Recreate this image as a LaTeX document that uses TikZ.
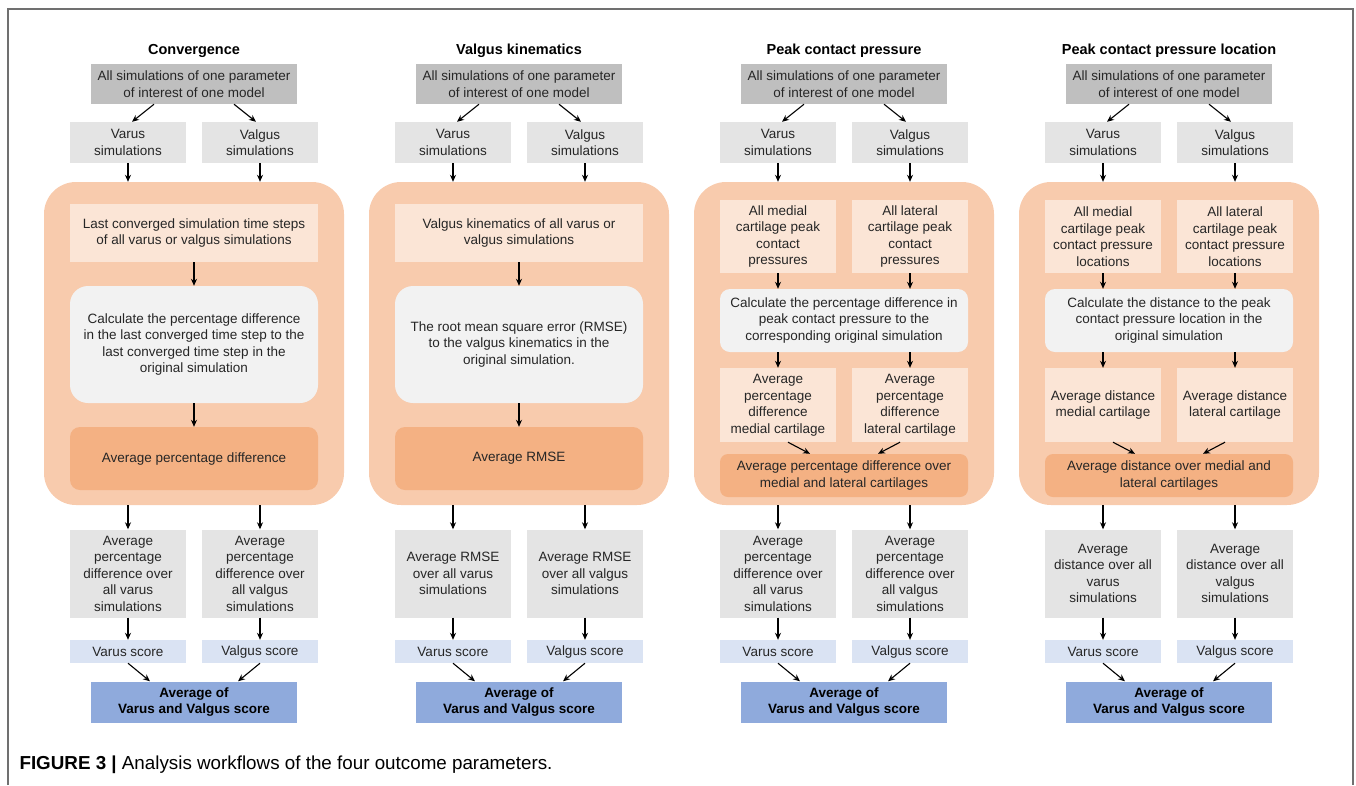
\documentclass[tikz,border=0pt]{standalone}
\usepackage{fontspec}
\setmainfont{Liberation Sans}
\usetikzlibrary{arrows.meta}

\definecolor{ink}{HTML}{262626}
\definecolor{topgray}{HTML}{BFBFBF}
\definecolor{simgray}{HTML}{E4E4E4}
\definecolor{peach}{HTML}{F8CBAD}
\definecolor{peachlight}{HTML}{FBE5D6}
\definecolor{peachdark}{HTML}{F4B183}
\definecolor{calcgray}{HTML}{F2F2F2}
\definecolor{bluelight}{HTML}{DAE3F3}
\definecolor{bluedark}{HTML}{8FAADC}
\definecolor{framegray}{HTML}{707070}

\tikzset{
  txt/.style={inner sep=0pt, align=center, text=ink, font=\fontsize{13.5}{16.5}\selectfont},
  topbox/.style={txt, fill=topgray, minimum width=206pt, minimum height=40pt},
  simbox/.style={txt, fill=simgray, minimum width=116pt, minimum height=41pt},
  resbox/.style={txt, fill=simgray, minimum width=116pt, minimum height=88pt},
  scorebox/.style={txt, fill=bluelight, minimum width=116pt, minimum height=23pt},
  finalbox/.style={txt, fill=bluedark, minimum width=206pt, minimum height=41pt,
    text=black, font=\fontsize{13.5}{16}\selectfont\bfseries},
  pot/.style={fill=peach, rounded corners=32pt, minimum width=300pt, minimum height=323pt},
  firstbox/.style={txt, fill=peachlight, minimum width=248pt},
  pairbox/.style={txt, fill=peachlight, minimum width=116pt},
  calcbox/.style={txt, fill=calcgray, minimum width=248pt},
  avgbox/.style={txt, fill=peachdark, minimum width=248pt},
  headline/.style={font=\fontsize{14.5}{17}\selectfont\bfseries},
  arr/.style={-{Stealth[length=7pt,width=6pt]}, line width=1.1pt, black}
}

\begin{document}
\begin{tikzpicture}[x=1pt, y=-1pt]
\useasboundingbox (0,0) rectangle (1356,785);
\draw[framegray, line width=1.3pt] (8,785) -- (8,9) -- (1353,9) -- (1353,785);

% common skeleton of the four workflows
\foreach \col/\cx/\ttl in {1/194/Convergence, 2/519/Valgus kinematics,
    3/844/Peak contact pressure, 4/1169/Peak contact pressure location} {
  \begin{scope}[xshift=\cx pt]
    \node[headline] (h\col) at (0,51) {\ttl};
    \node[topbox] (t\col) at (0,84) {All simulations of one parameter\\of interest of one model};
    \node[simbox] (va\col) at (-66,142.5) {Varus\\simulations};
    \node[simbox] (vg\col) at (66,142.5) {Valgus\\simulations};
    \node[pot] (c\col) at (0,343.5) {};
    \node[scorebox] (sv\col) at (-66,651.5) {Varus score};
    \node[scorebox] (sg\col) at (66,651.5) {Valgus score};
    \node[finalbox] (f\col) at (0,702) {Average of\\Varus and Valgus score};
  \end{scope}
}

% convergence
\begin{scope}[xshift=194pt]
  \node[firstbox, minimum height=58pt] (l1) at (0,233)
    {Last converged simulation time steps\\of all varus or valgus simulations};
  \node[calcbox, rounded corners=18pt, minimum height=117pt] (g1) at (0,344.5)
    {Calculate the percentage difference\\in the last converged time step to the\\last converged time step in the\\original simulation};
  \node[avgbox, rounded corners=10pt, minimum height=63pt] (d1) at (0,458.5)
    {Average percentage difference};
  \node[resbox] (rv1) at (-66,573.5) {Average\\percentage\\difference over\\all varus\\simulations};
  \node[resbox] (rg1) at (66,573.5) {Average\\percentage\\difference over\\all valgus\\simulations};
\end{scope}
\draw[arr] (l1) -- (g1);
\draw[arr] (g1) -- (d1);

% valgus kinematics
\begin{scope}[xshift=519pt]
  \node[firstbox, minimum height=58pt] (l2) at (0,233)
    {Valgus kinematics of all varus or\\valgus simulations};
  \node[calcbox, rounded corners=18pt, minimum height=117pt] (g2) at (0,344.5)
    {The root mean square error (RMSE)\\to the valgus kinematics in the\\original simulation.};
  \node[avgbox, rounded corners=10pt, minimum height=63pt] (d2) at (0,458.5)
    {Average RMSE};
  \node[resbox] (rv2) at (-66,573.5) {Average RMSE\\over all varus\\simulations};
  \node[resbox] (rg2) at (66,573.5) {Average RMSE\\over all valgus\\simulations};
\end{scope}
\draw[arr] (l2) -- (g2);
\draw[arr] (g2) -- (d2);

% peak contact pressure
\begin{scope}[xshift=844pt]
  \node[pairbox, minimum height=73pt] (m3) at (-66,236.5)
    {All medial\\cartilage peak\\contact\\pressures};
  \node[pairbox, minimum height=73pt] (n3) at (66,236.5)
    {All lateral\\cartilage peak\\contact\\pressures};
  \node[calcbox, rounded corners=10pt, minimum height=63pt] (g3) at (0,320.5)
    {Calculate the percentage difference in\\peak contact pressure to the\\corresponding original simulation};
  \node[pairbox, minimum height=74pt] (am3) at (-66,405)
    {Average\\percentage\\difference\\medial cartilage};
  \node[pairbox, minimum height=74pt] (an3) at (66,405)
    {Average\\percentage\\difference\\lateral cartilage};
  \node[avgbox, rounded corners=8pt, minimum height=43pt] (d3) at (0,475.5)
    {Average percentage difference over\\medial and lateral cartilages};
  \node[resbox] (rv3) at (-66,573.5) {Average\\percentage\\difference over\\all varus\\simulations};
  \node[resbox] (rg3) at (66,573.5) {Average\\percentage\\difference over\\all valgus\\simulations};
\end{scope}

% peak contact pressure location
\begin{scope}[xshift=1169pt]
  \node[pairbox, minimum height=73pt] (m4) at (-66,236.5)
    {All medial\\cartilage peak\\contact pressure\\locations};
  \node[pairbox, minimum height=73pt] (n4) at (66,236.5)
    {All lateral\\cartilage peak\\contact pressure\\locations};
  \node[calcbox, rounded corners=10pt, minimum height=63pt] (g4) at (0,320.5)
    {Calculate the distance to the peak\\contact pressure location in the\\original simulation};
  \node[pairbox, minimum height=74pt] (am4) at (-66,405)
    {Average distance\\medial cartilage};
  \node[pairbox, minimum height=74pt] (an4) at (66,405)
    {Average distance\\lateral cartilage};
  \node[avgbox, rounded corners=8pt, minimum height=43pt] (d4) at (0,475.5)
    {Average distance over medial and\\lateral cartilages};
  \node[resbox] (rv4) at (-66,573.5) {Average\\distance over all\\varus\\simulations};
  \node[resbox] (rg4) at (66,573.5) {Average\\distance over all\\valgus\\simulations};
\end{scope}

\foreach \col in {3,4} {
  \draw[arr] (m\col) -- (m\col |- g\col.north);
  \draw[arr] (n\col) -- (n\col |- g\col.north);
  \draw[arr] (g\col.south -| am\col) -- (am\col);
  \draw[arr] (g\col.south -| an\col) -- (an\col);
  \draw[arr] ([xshift=10pt]am\col.south) -- ([xshift=-34pt]d\col.north);
  \draw[arr] ([xshift=-10pt]an\col.south) -- ([xshift=34pt]d\col.north);
}

% arrows shared by all columns
\foreach \col in {1,...,4} {
  \draw[arr] ([xshift=-40pt]t\col.south) -- ([xshift=4pt]va\col.north);
  \draw[arr] ([xshift=40pt]t\col.south) -- ([xshift=-4pt]vg\col.north);
  \draw[arr] (va\col) -- (va\col |- c\col.north);
  \draw[arr] (vg\col) -- (vg\col |- c\col.north);
  \draw[arr] (rv\col |- c\col.south) -- (rv\col);
  \draw[arr] (rg\col |- c\col.south) -- (rg\col);
  \draw[arr] (rv\col) -- (sv\col);
  \draw[arr] (rg\col) -- (sg\col);
  \draw[arr] (sv\col.south) -- ([xshift=-44pt]f\col.north);
  \draw[arr] (sg\col.south) -- ([xshift=44pt]f\col.north);
}

\node[anchor=base west, font=\fontsize{18.8}{21}\selectfont] (cap) at (16,769)
  {\textbf{FIGURE 3 |} Analysis workflows of the four outcome parameters.};
\end{tikzpicture}
\end{document}
